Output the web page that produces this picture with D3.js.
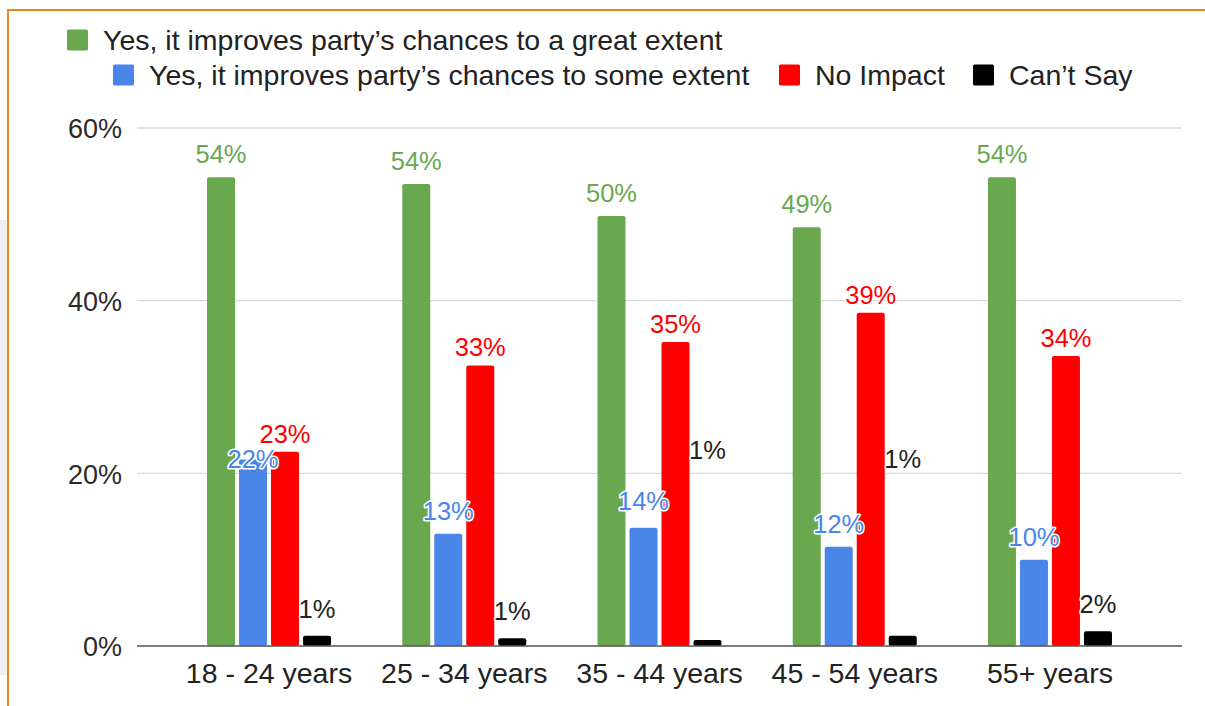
<!DOCTYPE html>
<html>
<head>
<meta charset="utf-8">
<script src="https://cdn.jsdelivr.net/npm/d3@7"></script>
<style>
  html, body { margin: 0; padding: 0; background: #fff; }
  svg { display: block; font-family: Arial, "Liberation Sans", sans-serif; }
</style>
</head>
<body>
<svg id="chart" width="1205" height="706"></svg>
<script>
// ---- data ----
const categories = ["18 - 24 years", "25 - 34 years", "35 - 44 years", "45 - 54 years", "55+ years"];
const seriesNames = [
  "Yes, it improves party\u2019s chances to a great extent",
  "Yes, it improves party\u2019s chances to some extent",
  "No Impact",
  "Can\u2019t Say"
];
const greatExtent = [54.3, 53.5, 49.8, 48.5, 54.3];
const someExtent  = [21.6, 13.0, 13.7, 11.5, 10.0];
const noImpact    = [22.5, 32.5, 35.2, 38.6, 33.6];
const cantSay     = [1.2, 0.9, 0.7, 1.2, 1.7];
const valueLabels = [
  ["54%", "22%", "23%", "1%"],
  ["54%", "13%", "33%", "1%"],
  ["50%", "14%", "35%", "1%"],
  ["49%", "12%", "39%", "1%"],
  ["54%", "10%", "34%", "2%"]
];
const yTicks = [0, 20, 40, 60];
const yTickLabels = ["0%", "20%", "40%", "60%"];

// ---- styling ----
const colors = ["#6aa84f", "#4a86e8", "#ff0000", "#000000"];
const labelColors = ["#6aa84f", "#4a86e8", "#ff0000", "#222222"];
const seriesValues = [greatExtent, someExtent, noImpact, cantSay];

const svg = d3.select("#chart");

// frame decoration
svg.append("rect").attr("x", 0).attr("y", 220).attr("width", 7).attr("height", 455).attr("fill", "#efeff1");
svg.append("rect").attr("x", 7).attr("y", 9).attr("width", 1198).attr("height", 2).attr("fill", "#e8891c");
svg.append("rect").attr("x", 7).attr("y", 9).attr("width", 2).attr("height", 697).attr("fill", "#e8891c");

const plotLeft = 137, plotRight = 1182;
const y = d3.scaleLinear().domain([0, 60]).range([646, 128]);
const x0 = d3.scaleBand().domain(categories).range([171.4, 1147.6]).paddingInner(0).paddingOuter(0);
const bw = x0.bandwidth();
const x1 = d3.scaleBand().domain(d3.range(4)).range([bw / 2 - 64, bw / 2 + 64]).paddingInner(0.125).paddingOuter(0.0625);

// gridlines
svg.append("g").selectAll("line").data(yTicks.filter(d => d > 0)).join("line")
  .attr("x1", plotLeft).attr("x2", plotRight)
  .attr("y1", d => y(d)).attr("y2", d => y(d))
  .attr("stroke", "#d9d9d9").attr("stroke-width", 1.3);

// y axis labels
const yAxis = d3.axisLeft(y).tickValues(yTicks).tickFormat((d, i) => yTickLabels[i]).tickSize(0).tickPadding(0);
const yg = svg.append("g").attr("transform", `translate(122,0)`).call(yAxis);
yg.select(".domain").remove();
yg.selectAll("text").attr("font-size", 27).attr("fill", "#2b2b2b").attr("font-family", "Arial, 'Liberation Sans', sans-serif")
  .attr("dy", "0.36em");

// bars
const rows = categories.map((c, i) => ({ c, i, vals: seriesValues.map(s => s[i]) }));
const groups = svg.append("g").selectAll("g").data(rows).join("g")
  .attr("transform", d => `translate(${x0(d.c)},0)`);
groups.selectAll("rect").data(d => d.vals.map((v, s) => ({ v, s }))).join("rect")
  .attr("x", d => x1(d.s)).attr("width", x1.bandwidth())
  .attr("y", d => y(d.v)).attr("height", d => y(0) - y(d.v))
  .attr("rx", 2).attr("fill", d => colors[d.s]);

// baseline axis
const xAxis = d3.axisBottom(x0).tickSize(0).tickPadding(0);
svg.append("line").attr("x1", plotLeft).attr("x2", plotRight).attr("y1", y(0)).attr("y2", y(0))
  .attr("stroke", "#555").attr("stroke-width", 1.5);
const xg = svg.append("g").attr("transform", `translate(0,${y(0)})`).call(xAxis);
xg.select(".domain").remove();
xg.selectAll("text").attr("font-size", 28.5).attr("fill", "#222").attr("font-family", "Arial, 'Liberation Sans', sans-serif")
  .attr("y", 37).attr("dy", 0);

// value labels
const labelOffset = [14, 14, 9, 18];
const labelLift = [
  [0, -22, 0, 0],
  [0, 0, 0, 0],
  [0, 4, 0, 163],
  [0, 0, 0, 150],
  [0, 0, 0, 0]
];
groups.selectAll("text.val").data(d => d.vals.map((v, s) => ({ v, s, i: d.i }))).join("text")
  .attr("class", "val")
  .attr("x", d => x1(d.s) + x1.bandwidth() / 2)
  .attr("y", d => y(d.v) - labelOffset[d.s] - labelLift[d.i][d.s])
  .attr("text-anchor", "middle")
  .attr("font-size", 25.5)
  .attr("fill", d => labelColors[d.s])
  .attr("stroke", "#fff").attr("stroke-width", 3).attr("paint-order", "stroke")
  .attr("stroke-linejoin", "round")
  .text(d => valueLabels[d.i][d.s]);

// legend
const legendItems = [
  { s: 0, x: 67, y: 40 },
  { s: 1, x: 113, y: 75 },
  { s: 2, x: 779, y: 75 },
  { s: 3, x: 973, y: 75 }
];
const lg = svg.append("g").selectAll("g").data(legendItems).join("g")
  .attr("transform", d => `translate(${d.x},${d.y})`);
lg.append("rect").attr("x", 0).attr("y", -10.5).attr("width", 21).attr("height", 21).attr("rx", 1.5)
  .attr("fill", d => colors[d.s]);
lg.append("text").attr("x", 36).attr("y", 9.5).attr("font-size", 28.5).attr("fill", "#222")
  .text(d => seriesNames[d.s]);
</script>
</body>
</html>
